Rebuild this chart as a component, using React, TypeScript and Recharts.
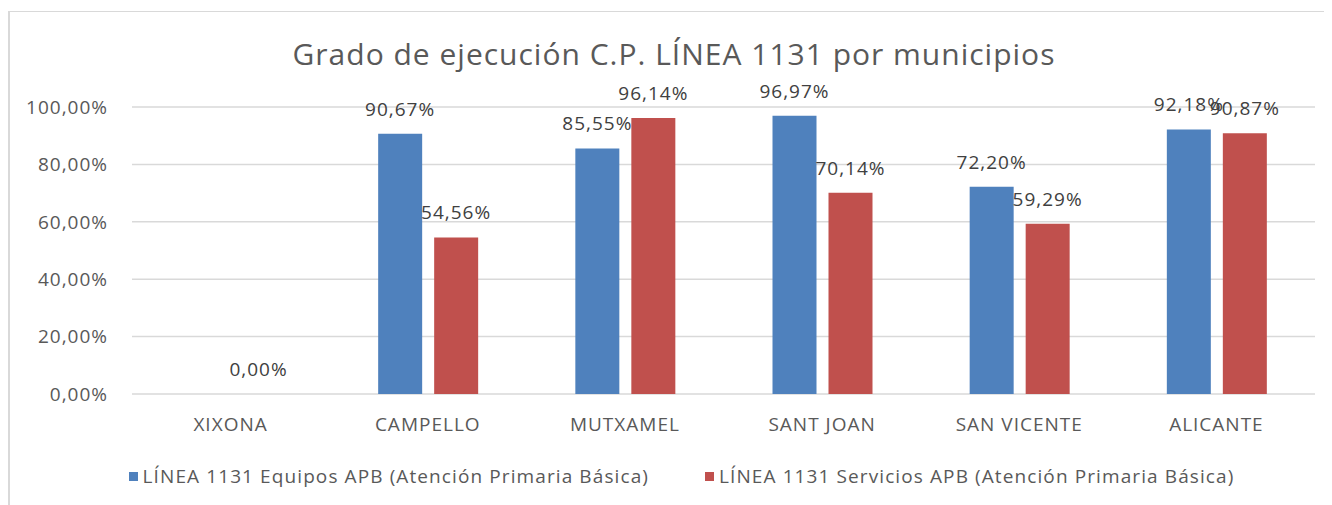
import { BarChart, Bar, XAxis, YAxis, CartesianGrid, Legend, LabelList, ReferenceDot } from 'recharts';

const municipios = ['XIXONA', 'CAMPELLO', 'MUTXAMEL', 'SANT JOAN', 'SAN VICENTE', 'ALICANTE'];
const equipos: (number | null)[] = [null, 90.67, 85.55, 96.97, 72.2, 92.18];
const servicios: number[] = [0, 54.56, 96.14, 70.14, 59.29, 90.87];
const yTicks = [0, 20, 40, 60, 80, 100];

const data = municipios.map((name, i) => ({
  name,
  equipos: equipos[i],
  servicios: servicios[i],
}));

const FONT = '"Open Sans", sans-serif';
const BAR_SIZE = 44;
const BAR_GAP = 12;
const fmt = (v: any) => (v === null || v === undefined ? '' : Number(v).toFixed(2).replace('.', ',') + '%');
const textStyle = { letterSpacing: 1 };

const renderLegend = (props: any) => {
  const { payload = [] } = props;
  return (
    <div style={{ display: 'flex', justifyContent: 'center', paddingLeft: 40, paddingTop: 19, fontFamily: FONT, fontSize: 19, letterSpacing: 1.1, color: '#595959' }}>
      {payload.map((entry: any, i: number) => (
        <div key={i} style={{ display: 'flex', alignItems: 'center', marginRight: i === 0 ? 56 : 0 }}>
          <span style={{ display: 'inline-block', width: 9, height: 9, background: entry.color, marginRight: 5 }} />
          <span>{entry.value}</span>
        </div>
      ))}
    </div>
  );
};

// zero-height bars get no label, so the XIXONA value is labelled here
const zeroLabels = data
  .map((d, i) => ({ d, i }))
  .filter(({ d }) => d.servicios === 0);

export default function App() {
  return (
    <div style={{ position: 'relative', width: 1324, height: 497 }}>
      <div
        style={{
          position: 'absolute',
          left: 0,
          top: 3,
          width: 1330,
          height: 500,
          borderTop: '1px solid #d9d9d9',
          borderLeft: '2px solid #d9d9d9',
        }}
      />
      <div
        style={{
          position: 'absolute',
          left: 4,
          width: 1324,
          top: 25,
          textAlign: 'center',
          fontFamily: FONT,
          fontSize: 30,
          letterSpacing: 1,
          color: '#595959',
        }}
      >
        Grado de ejecución C.P. LÍNEA 1131 por municipios
      </div>
      <BarChart
        width={1324}
        height={497}
        data={data}
        margin={{ top: 99, right: 17, left: 0, bottom: 0 }}
        barSize={BAR_SIZE}
        barGap={BAR_GAP}
      >
        <CartesianGrid vertical={false} stroke="#d9d9d9" strokeWidth={1.5} />
        <XAxis
          dataKey="name"
          height={50}
          axisLine={false}
          tickLine={false}
          tickSize={0}
          tickMargin={24}
          tick={{ fill: '#595959', fontSize: 19, fontFamily: FONT, style: textStyle }}
        />
        <YAxis
          width={124}
          domain={[0, 100]}
          ticks={yTicks}
          axisLine={false}
          tickLine={false}
          tickSize={0}
          tickMargin={24}
          tickFormatter={fmt}
          tick={{ fill: '#595959', fontSize: 19, fontFamily: FONT, style: textStyle }}
        />
        <Legend verticalAlign="bottom" content={renderLegend} wrapperStyle={{ height: 61 }} />
        <Bar dataKey="equipos" name="LÍNEA 1131 Equipos APB (Atención Primaria Básica)" fill="#4f81bd" isAnimationActive={false}>
          <LabelList dataKey="equipos" position="top" offset={18} formatter={fmt} fill="#404040" fontSize={19} fontFamily={FONT} style={textStyle} />
        </Bar>
        <Bar dataKey="servicios" name="LÍNEA 1131 Servicios APB (Atención Primaria Básica)" fill="#c0504d" isAnimationActive={false}>
          <LabelList dataKey="servicios" position="top" offset={18} formatter={fmt} fill="#404040" fontSize={19} fontFamily={FONT} style={textStyle} />
        </Bar>
        {zeroLabels.map(({ d }) => (
          <ReferenceDot
            key={d.name}
            x={d.name}
            y={d.servicios}
            r={0}
            stroke="none"
            fill="none"
            label={{
              value: fmt(d.servicios),
              position: 'top',
              offset: 18,
              dx: (BAR_SIZE + BAR_GAP) / 2,
              fill: '#404040',
              fontSize: 19,
              fontFamily: FONT,
              style: textStyle,
            }}
          />
        ))}
      </BarChart>
    </div>
  );
}
